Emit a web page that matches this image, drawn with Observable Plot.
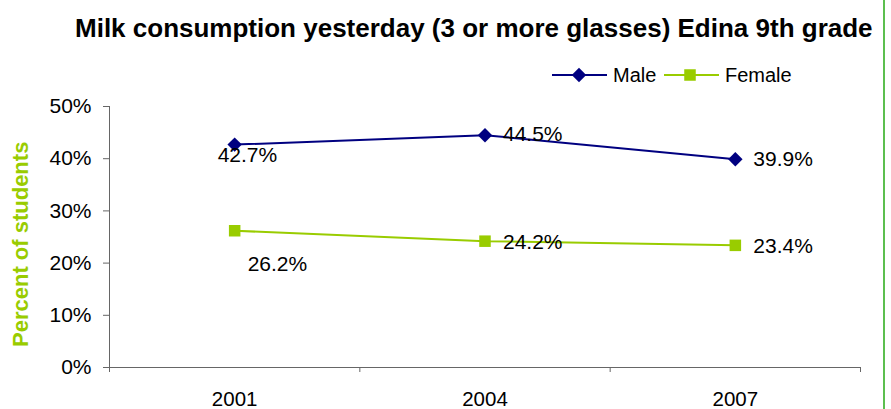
<!DOCTYPE html>
<html>
<head>
<meta charset="utf-8">
<script src="https://cdn.jsdelivr.net/npm/d3@7"></script>
<script src="https://cdn.jsdelivr.net/npm/@observablehq/plot@0.6"></script>
<style>
  html, body { margin: 0; padding: 0; background: #fff; }
  #wrap { position: relative; width: 891px; height: 409px; overflow: hidden; font-family: "Liberation Sans", Arial, sans-serif; }
  #header { position: relative; width: 891px; height: 90px; }
  #title { position: absolute; left: 75px; top: 15px; font-size: 26px; line-height: 26px; font-weight: bold; white-space: nowrap; color: #000; }
  #legend { position: absolute; left: 0; top: 0; }
  #edge { position: absolute; left: 883px; top: 0; width: 2px; height: 409px; background: #5cbf4f; }
  #chart svg { display: block; }
</style>
</head>
<body>
<div id="wrap">
  <div id="header">
    <div id="title">Milk consumption yesterday (3 or more glasses) Edina 9th grade</div>
    <svg id="legend" width="891" height="90"></svg>
  </div>
  <div id="chart"></div>
  <div id="edge"></div>
</div>
<script>
const years = ["2001", "2004", "2007"];
const male = [0.427, 0.445, 0.399];
const female = [0.262, 0.242, 0.234];
const seriesNames = ["Male", "Female"];
const yTicks = [0, 0.1, 0.2, 0.3, 0.4, 0.5];
const yLabel = "Percent of students";

const colors = { Male: "#000080", Female: "#99cc00" };
const symbols = { Male: "diamond2", Female: "square" };

const rows = [
  ...years.map((year, i) => ({ series: "Male", year, value: male[i] })),
  ...years.map((year, i) => ({ series: "Female", year, value: female[i] }))
];
const xi = d => years.indexOf(d.year) + 0.5;
const pct = d3.format(".1%");

// label placement (style): offsets per series/year
const labelOffsets = {
  "Male|2001": [-17, 11], "Male|2004": [18, -1], "Male|2007": [18, 0],
  "Female|2001": [13, 34], "Female|2004": [18, 1], "Female|2007": [18, 1]
};
const labelMarks = rows.map(r => {
  const [dx, dy] = labelOffsets[r.series + "|" + r.year];
  return Plot.text([r], { x: xi, y: "value", text: d => pct(d.value), dx, dy,
    textAnchor: "start", fontSize: 21, fill: "#000" });
});

const chart = Plot.plot({
  width: 891, height: 319,
  marginTop: 16, marginBottom: 42, marginLeft: 109, marginRight: 31,
  x: { domain: [0, years.length], axis: null },
  y: { domain: [0, 0.5], axis: null },
  style: { fontFamily: "'Liberation Sans', Arial, sans-serif", background: "transparent", color: "#000", overflow: "visible" },
  marks: [
    Plot.axisY(yTicks, { tickSize: 6, tickPadding: 12, tickFormat: d3.format(".0%"), fontSize: 21, stroke: "#666", label: null }),
    Plot.axisX(d3.range(years.length + 1), { tickSize: 5, tickFormat: () => "", stroke: "#666", label: null }),
    Plot.axisX(years.map((y, i) => i + 0.5), { tickSize: 0, tickPadding: 24, tickFormat: v => years[Math.floor(v)], fontSize: 20.5, label: null }),
    Plot.ruleX([0], { y1: 0, y2: 0.5, stroke: "#666" }),
    Plot.ruleY([0], { x1: 0, x2: years.length, stroke: "#666" }),
    Plot.text([yLabel], { x: 0, y: 0.236, dx: -89, rotate: -90, fill: "#99cc00", fontWeight: "bold", fontSize: 22 }),
    ...seriesNames.map(s => Plot.line(rows.filter(r => r.series === s), { x: xi, y: "value", stroke: colors[s], strokeWidth: 2 })),
    ...seriesNames.map(s => Plot.dot(rows.filter(r => r.series === s), { x: xi, y: "value", symbol: symbols[s], fill: colors[s], r: 6.5 })),
    ...labelMarks
  ]
});
document.getElementById("chart").appendChild(chart);

// legend
const lg = d3.select("#legend");
const legendItems = [
  { name: "Male", x0: 552, x1: 607, mx: 579, tx: 613 },
  { name: "Female", x0: 664, x1: 719, mx: 690, tx: 725 }
];
const ly = 75;
legendItems.forEach(it => {
  lg.append("line").attr("x1", it.x0).attr("x2", it.x1).attr("y1", ly).attr("y2", ly)
    .attr("stroke", colors[it.name]).attr("stroke-width", 2);
  const sym = it.name === "Male" ? d3.symbolDiamond2 : d3.symbolSquare;
  lg.append("path").attr("d", d3.symbol(sym, 6.5 * 6.5 * Math.PI)())
    .attr("transform", `translate(${it.mx},${ly})`).attr("fill", colors[it.name]);
  lg.append("text").attr("x", it.tx).attr("y", ly).attr("dy", "0.35em")
    .attr("font-size", 20).attr("font-family", "'Liberation Sans', Arial, sans-serif").text(it.name);
});
</script>
</body>
</html>
